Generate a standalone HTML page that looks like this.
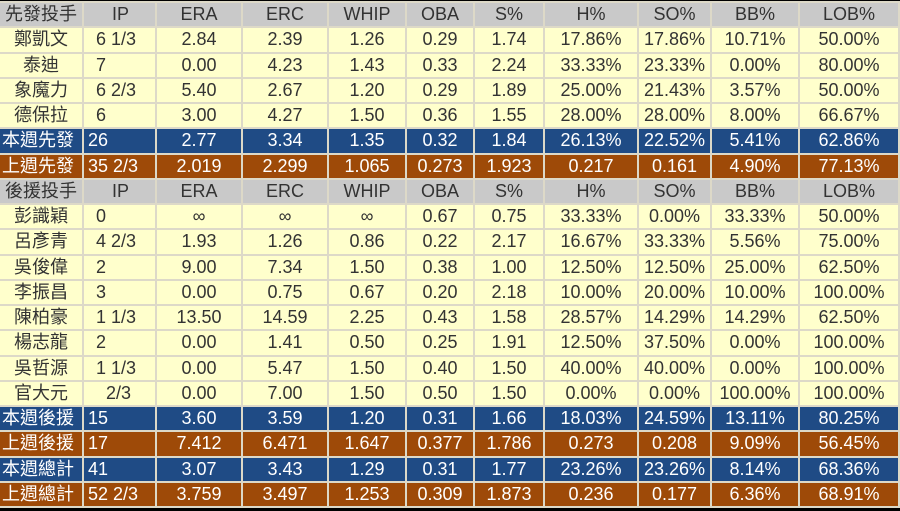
<!DOCTYPE html>
<html><head><meta charset="utf-8"><style>
html,body{margin:0;padding:0;background:#000;width:900px;height:511px;overflow:hidden}
table{position:absolute;top:1px;left:-2px;width:902px;border-collapse:separate;border-spacing:2px 2px;table-layout:fixed;background:#ddd9c8}
td{height:23.25px;padding:0;text-align:center;font-family:"Liberation Sans","Noto Sans CJK TC",sans-serif;font-size:18px;color:#333;background:#ffffcc;white-space:nowrap;overflow:hidden;line-height:23px}
td.ip{text-align:left;text-indent:12px}
tr.h td{background:#c9c9c9;color:#333}
tr.b td{background:#1f4b85;color:#fff}
tr.r td{background:#9e4a08;color:#fff}
tr.b td:first-child,tr.r td:first-child{text-align:left;text-indent:2px}
tr.b td.ip,tr.r td.ip{text-indent:4px}
tr.h td.ip{text-indent:28px}
</style></head><body>
<table>
<colgroup><col style="width:82px"><col style="width:71px"><col style="width:84px"><col style="width:84px"><col style="width:76px"><col style="width:66px"><col style="width:68px"><col style="width:92px"><col style="width:71px"><col style="width:86px"><col style="width:98px"></colgroup>
<tr class="h"><td>先發投手</td><td class="ip">IP</td><td>ERA</td><td>ERC</td><td>WHIP</td><td>OBA</td><td>S%</td><td>H%</td><td>SO%</td><td>BB%</td><td>LOB%</td></tr>
<tr><td>鄭凱文</td><td class="ip">6 1/3</td><td>2.84</td><td>2.39</td><td>1.26</td><td>0.29</td><td>1.74</td><td>17.86%</td><td>17.86%</td><td>10.71%</td><td>50.00%</td></tr>
<tr><td>泰迪</td><td class="ip">7</td><td>0.00</td><td>4.23</td><td>1.43</td><td>0.33</td><td>2.24</td><td>33.33%</td><td>23.33%</td><td>0.00%</td><td>80.00%</td></tr>
<tr><td>象魔力</td><td class="ip">6 2/3</td><td>5.40</td><td>2.67</td><td>1.20</td><td>0.29</td><td>1.89</td><td>25.00%</td><td>21.43%</td><td>3.57%</td><td>50.00%</td></tr>
<tr><td>德保拉</td><td class="ip">6</td><td>3.00</td><td>4.27</td><td>1.50</td><td>0.36</td><td>1.55</td><td>28.00%</td><td>28.00%</td><td>8.00%</td><td>66.67%</td></tr>
<tr class="b"><td>本週先發</td><td class="ip">26</td><td>2.77</td><td>3.34</td><td>1.35</td><td>0.32</td><td>1.84</td><td>26.13%</td><td>22.52%</td><td>5.41%</td><td>62.86%</td></tr>
<tr class="r"><td>上週先發</td><td class="ip">35 2/3</td><td>2.019</td><td>2.299</td><td>1.065</td><td>0.273</td><td>1.923</td><td>0.217</td><td>0.161</td><td>4.90%</td><td>77.13%</td></tr>
<tr class="h"><td>後援投手</td><td class="ip">IP</td><td>ERA</td><td>ERC</td><td>WHIP</td><td>OBA</td><td>S%</td><td>H%</td><td>SO%</td><td>BB%</td><td>LOB%</td></tr>
<tr><td>彭識穎</td><td class="ip">0</td><td>∞</td><td>∞</td><td>∞</td><td>0.67</td><td>0.75</td><td>33.33%</td><td>0.00%</td><td>33.33%</td><td>50.00%</td></tr>
<tr><td>呂彥青</td><td class="ip">4 2/3</td><td>1.93</td><td>1.26</td><td>0.86</td><td>0.22</td><td>2.17</td><td>16.67%</td><td>33.33%</td><td>5.56%</td><td>75.00%</td></tr>
<tr><td>吳俊偉</td><td class="ip">2</td><td>9.00</td><td>7.34</td><td>1.50</td><td>0.38</td><td>1.00</td><td>12.50%</td><td>12.50%</td><td>25.00%</td><td>62.50%</td></tr>
<tr><td>李振昌</td><td class="ip">3</td><td>0.00</td><td>0.75</td><td>0.67</td><td>0.20</td><td>2.18</td><td>10.00%</td><td>20.00%</td><td>10.00%</td><td>100.00%</td></tr>
<tr><td>陳柏豪</td><td class="ip">1 1/3</td><td>13.50</td><td>14.59</td><td>2.25</td><td>0.43</td><td>1.58</td><td>28.57%</td><td>14.29%</td><td>14.29%</td><td>62.50%</td></tr>
<tr><td>楊志龍</td><td class="ip">2</td><td>0.00</td><td>1.41</td><td>0.50</td><td>0.25</td><td>1.91</td><td>12.50%</td><td>37.50%</td><td>0.00%</td><td>100.00%</td></tr>
<tr><td>吳哲源</td><td class="ip">1 1/3</td><td>0.00</td><td>5.47</td><td>1.50</td><td>0.40</td><td>1.50</td><td>40.00%</td><td>40.00%</td><td>0.00%</td><td>100.00%</td></tr>
<tr><td>官大元</td><td class="ip">&nbsp;&nbsp;2/3</td><td>0.00</td><td>7.00</td><td>1.50</td><td>0.50</td><td>1.50</td><td>0.00%</td><td>0.00%</td><td>100.00%</td><td>100.00%</td></tr>
<tr class="b"><td>本週後援</td><td class="ip">15</td><td>3.60</td><td>3.59</td><td>1.20</td><td>0.31</td><td>1.66</td><td>18.03%</td><td>24.59%</td><td>13.11%</td><td>80.25%</td></tr>
<tr class="r"><td>上週後援</td><td class="ip">17</td><td>7.412</td><td>6.471</td><td>1.647</td><td>0.377</td><td>1.786</td><td>0.273</td><td>0.208</td><td>9.09%</td><td>56.45%</td></tr>
<tr class="b"><td>本週總計</td><td class="ip">41</td><td>3.07</td><td>3.43</td><td>1.29</td><td>0.31</td><td>1.77</td><td>23.26%</td><td>23.26%</td><td>8.14%</td><td>68.36%</td></tr>
<tr class="r"><td>上週總計</td><td class="ip">52 2/3</td><td>3.759</td><td>3.497</td><td>1.253</td><td>0.309</td><td>1.873</td><td>0.236</td><td>0.177</td><td>6.36%</td><td>68.91%</td></tr>
</table>
</body></html>
